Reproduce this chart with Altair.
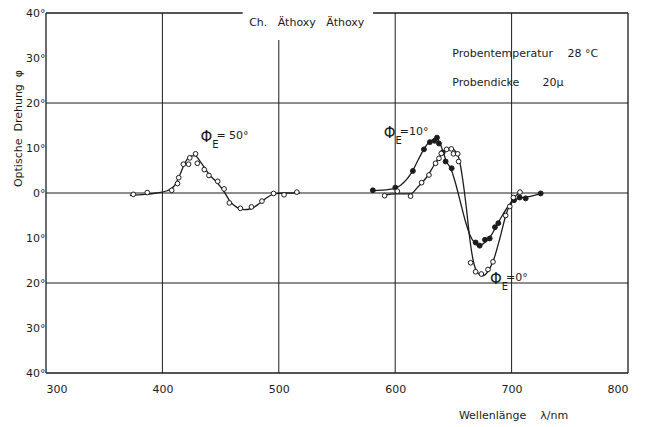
import altair as alt
import pandas as pd

FONT = "DejaVu Sans"
INK = "#1c1c1c"
NB = "\u00a0"

# ---- data ----
# PhiE = 50 deg, open circles
p50_x = [375, 387, 408, 413, 414, 418, 422.5, 423.5, 428.5, 430, 436, 440, 447.5, 453, 457.5, 467, 476.5, 485.5, 495.5, 504.5, 515.5]
p50_y = [-0.3, 0.1, 0.6, 2.1, 3.4, 6.4, 6.4, 7.8, 8.7, 6.6, 5.2, 3.9, 2.6, 0.9, -2.2, -3.4, -3.1, -1.8, -0.1, -0.4, 0.2]
c50_x = [372, 385, 395, 404, 410, 415, 419, 424, 428, 433, 440, 447, 453, 458, 464, 470, 476, 483, 490, 496, 505, 518]
c50_y = [-0.5, -0.3, 0.0, 0.5, 1.5, 4.0, 6.5, 8.2, 8.3, 6.8, 4.2, 2.3, 0.3, -1.8, -3.2, -3.7, -3.5, -2.4, -1.0, -0.2, 0.0, 0.0]

# PhiE = 10 deg, filled circles
p10_x = [580.8, 600.1, 615.2, 624.7, 629.8, 633.9, 635.9, 637.6, 640.8, 643.3, 648.5, 669.1, 672.6, 677.1, 681.2, 685.7, 688.6, 702.1, 707, 712.1, 725]
p10_y = [0.6, 1.2, 4.9, 9.7, 11.3, 11.6, 12.3, 11.0, 9.0, 7.0, 5.5, -11.0, -11.7, -10.4, -10.1, -7.6, -6.7, -1.6, -1.0, -1.2, -0.1]
c10_x = [580, 595, 605, 614, 620, 626, 632, 636, 640, 644, 648, 652, 656, 660, 664, 668, 672, 677, 682, 687, 692, 697, 702, 708, 715, 726]
c10_y = [0.5, 0.8, 1.8, 4.5, 7.5, 10.3, 11.8, 12.0, 10.0, 7.0, 5.3, 2.0, -2.0, -6.0, -9.2, -11.0, -11.7, -11.0, -9.6, -7.3, -5.0, -3.0, -1.6, -1.1, -0.8, -0.1]

# PhiE = 0 deg, open circles
p0_x = [590.9, 601.8, 613.2, 622.7, 629, 634.7, 637.6, 639.6, 644.2, 648.2, 650, 653.7, 654.5, 664.8, 669.1, 674, 679.7, 684, 694.9, 698.4, 701.5, 707.2]
p0_y = [-0.6, 0.4, -0.7, 2.3, 4.0, 6.6, 7.7, 8.8, 9.7, 9.8, 8.7, 8.7, 7.0, -15.5, -17.5, -18.0, -17.0, -15.3, -5.0, -3.0, -1.0, 0.2]
c0_x = [591, 600, 613, 620, 627, 633, 638, 643, 648, 652, 655, 658, 661, 664, 667, 671, 675, 680, 685, 690, 695, 700, 705, 708]
c0_y = [-0.5, -0.2, -0.2, 1.5, 3.5, 6.0, 8.0, 9.5, 9.9, 9.2, 7.5, 3.0, -3.0, -10.0, -15.0, -17.8, -18.4, -17.3, -14.5, -10.0, -5.0, -1.8, -0.3, 0.2]

# axes / frame
x_ticks = [300, 400, 500, 600, 700, 800]
y_ticks = [-40, -30, -20, -10, 0, 10, 20, 30, 40]
hgrid_y = [-20, 0, 20]
vgrid_x = [400, 500, 600, 700]
vgrid_top = [40, 34, 40, 40]
frame_v = [300, 800]
frame_bottom = [-40]
top_x1 = [300, 581]
top_x2 = [469, 800]

# labels
phi_x = [437.8, 595.3, 686.6]
phi_y = [12.4, 13.3, -19.1]
phi_val = ["=" + NB + "50°", "=10°", "=0°"]
note_text = ["Ch." + NB * 3 + "Äthoxy" + NB * 3 + "Äthoxy", "Probentemperatur", "28 °C", "Probendicke", "20μ"]
note_x = [524, 649, 748, 649, 726.5]
note_y = [37.8, 31.0, 31.0, 24.5, 24.5]
note_align = ["center", "left", "left", "left", "left"]

# ---- chart ----
xs = alt.Scale(domain=[300, 800], nice=False, zero=False)
ys = alt.Scale(domain=[-40, 40], nice=False, zero=False)

xaxis = alt.Axis(values=x_ticks, grid=False, domain=False, ticks=False, labelPadding=10,
                 labelFont=FONT, labelFontSize=11, labelColor=INK,
                 title="Wellenlänge" + NB * 4 + "λ/nm", titleFont=FONT, titleFontSize=11,
                 titleFontWeight="normal",
                 titleColor=INK, titleX=467, titleY=42, titleAlign="center", titleBaseline="middle")
yaxis = alt.Axis(values=y_ticks, grid=False, domain=False, ticks=False, labelPadding=1,
                 labelFont=FONT, labelFontSize=11, labelColor=INK,
                 labelExpr="abs(datum.value) + '°'",
                 title="Optische" + NB * 2 + "Drehung" + NB * 2 + "φ", titleFont=FONT, titleFontSize=11,
                 titleFontWeight="normal",
                 titleColor=INK, titleX=-28, titleY=115, titleAngle=270, titleAlign="center",
                 titleBaseline="middle")

X = lambda f="x": alt.X(f"{f}:Q", scale=xs, axis=xaxis)
Y = lambda f="y": alt.Y(f"{f}:Q", scale=ys, axis=yaxis)

hgrid = alt.Chart(pd.DataFrame({"y": hgrid_y})).mark_rule(color=INK, strokeWidth=1).encode(y=Y())
vgrid = alt.Chart(pd.DataFrame({"x": vgrid_x, "y": [-40] * len(vgrid_x), "y2": vgrid_top})).mark_rule(
    color=INK, strokeWidth=1).encode(x=X(), y=Y(), y2="y2:Q")
fv = alt.Chart(pd.DataFrame({"x": frame_v})).mark_rule(color=INK, strokeWidth=1.3).encode(x=X())
fb = alt.Chart(pd.DataFrame({"y": frame_bottom})).mark_rule(color=INK, strokeWidth=1.3).encode(y=Y())
ft = alt.Chart(pd.DataFrame({"x": top_x1, "x2": top_x2, "y": [40, 40]})).mark_rule(
    color=INK, strokeWidth=1.3).encode(x=X(), x2="x2:Q", y=Y())

def curve(xv, yv):
    return alt.Chart(pd.DataFrame({"x": xv, "y": yv})).mark_line(
        color=INK, strokeWidth=1.3, interpolate="monotone").encode(x=X(), y=Y())

def open_pts(xv, yv):
    return alt.Chart(pd.DataFrame({"x": xv, "y": yv})).mark_point(
        shape="circle", size=22, filled=True, fill="white", stroke=INK, strokeWidth=1, opacity=1
    ).encode(x=X(), y=Y())

def full_pts(xv, yv):
    return alt.Chart(pd.DataFrame({"x": xv, "y": yv})).mark_point(
        shape="circle", size=24, filled=True, fill=INK, stroke=INK, strokeWidth=1, opacity=1
    ).encode(x=X(), y=Y())

phi_df = pd.DataFrame({"x": phi_x, "y": phi_y, "t": phi_val})
phi1 = alt.Chart(phi_df).mark_text(text="Φ", font=FONT, fontSize=15, color=INK, align="center",
                                   baseline="middle").encode(x=X(), y=Y())
phi2 = alt.Chart(phi_df).mark_text(text="E", font=FONT, fontSize=10, color=INK, align="center",
                                   baseline="middle", dx=9, dy=8).encode(x=X(), y=Y())
phi3 = alt.Chart(phi_df).mark_text(font=FONT, fontSize=11, color=INK, align="left",
                                   baseline="middle", dx=10, dy=-1).encode(x=X(), y=Y(), text="t:N")

notes_df = pd.DataFrame({"x": note_x, "y": note_y, "t": note_text, "a": note_align})
notes_c = alt.Chart(notes_df[notes_df.a == "center"]).mark_text(
    font=FONT, fontSize=11, color=INK, align="center", baseline="middle").encode(x=X(), y=Y(), text="t:N")
notes_l = alt.Chart(notes_df[notes_df.a == "left"]).mark_text(
    font=FONT, fontSize=11, color=INK, align="left", baseline="middle").encode(x=X(), y=Y(), text="t:N")

chart = alt.layer(
    hgrid, vgrid, fv, fb, ft,
    curve(c50_x, c50_y), curve(c10_x, c10_y), curve(c0_x, c0_y),
    open_pts(p50_x, p50_y), full_pts(p10_x, p10_y), open_pts(p0_x, p0_y),
    phi1, phi2, phi3, notes_c, notes_l,
).properties(
    width=582, height=360,
    autosize=alt.AutoSizeParams(type="none"),
    padding={"left": 38, "top": 5, "right": 10, "bottom": 48},
    background="white",
).configure_view(strokeWidth=0)

chart.save("out.html", embed_options={"renderer": "svg", "actions": False})
